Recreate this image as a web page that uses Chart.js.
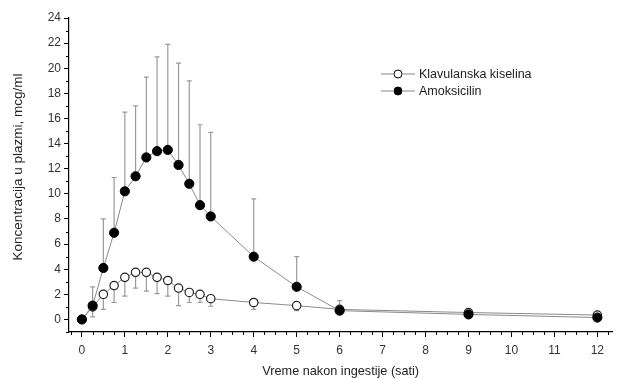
<!DOCTYPE html>
<html>
<head>
<meta charset="utf-8">
<script src="https://cdn.jsdelivr.net/npm/chart.js@4.4.0/dist/chart.umd.min.js"></script>
<style>
  html, body { margin: 0; padding: 0; background: #fff; }
  #wrap { width: 618px; height: 379px; }
</style>
</head>
<body>
<div id="wrap"><canvas id="myChart" width="618" height="379"></canvas></div>
<script>
const hours = [0, 0.25, 0.5, 0.75, 1, 1.25, 1.5, 1.75, 2, 2.25, 2.5, 2.75, 3, 4, 5, 6, 9, 12]

// Amoksicilin - mean and upper error bar
const amoxMean = [0, 1.1, 4.1, 6.9, 10.2, 11.4, 12.9, 13.4, 13.5, 12.3, 10.8, 9.1, 8.2, 5.0, 2.6, 0.7, 0.4, 0.15]
const amoxUpper = [null, 2.6, 8.0, 11.3, 16.5, 17.0, 19.3, 20.9, 21.9, 20.4, 19.0, 15.5, 14.9, 9.6, 5.0, 1.5, null, null]

// Klavulanska kiselina - mean and lower error bar
const clavMean = [0, 1.0, 2.0, 2.7, 3.35, 3.75, 3.75, 3.35, 3.1, 2.5, 2.15, 2.0, 1.65, 1.35, 1.1, 0.8, 0.55, 0.35]
const clavLower = [null, 0.2, 0.8, 1.35, 1.85, 2.5, 2.25, 2.05, 1.85, 1.1, 1.35, 1.35, 1.05, 0.8, 0.7, null, null, null]

const xTicks = [0, 1, 2, 3, 4, 5, 6, 7, 8, 9, 10, 11, 12]
const yTicks = [0, 2, 4, 6, 8, 10, 12, 14, 16, 18, 20, 22, 24]

const seriesNames = ['Klavulanska kiselina', 'Amoksicilin']
const xTitle = 'Vreme nakon ingestije (sati)'
const yTitle = 'Koncentracija u plazmi, mcg/ml'

const fontFamily = '"Liberation Sans", Arial, sans-serif'

function points(ys) {
  return hours.map((h, i) => ({ x: h, y: ys[i] }))
}

// error bars drawn through the scales
const errorBars = {
  id: 'errorBars',
  beforeDatasetsDraw(chart) {
    const c = chart.ctx
    const xs = chart.scales.x
    const ys = chart.scales.y
    c.save()
    c.strokeStyle = '#9a9a9a'
    c.lineWidth = 1.2
    function bar(x, y0, y1) {
      const px = xs.getPixelForValue(x)
      const p0 = ys.getPixelForValue(y0)
      const p1 = ys.getPixelForValue(y1)
      c.beginPath()
      c.moveTo(px, p0)
      c.lineTo(px, p1)
      c.moveTo(px - 2.5, p1)
      c.lineTo(px + 2.5, p1)
      c.stroke()
    }
    hours.forEach((h, i) => {
      if (amoxUpper[i] != null) bar(h, amoxMean[i], amoxUpper[i])
      if (clavLower[i] != null) bar(h, clavMean[i], clavLower[i])
    })
    c.restore()
  }
}

// minor ticks, y title and the legend
const extras = {
  id: 'extras',
  afterDraw(chart) {
    const c = chart.ctx
    const xs = chart.scales.x
    const ys = chart.scales.y
    const area = chart.chartArea
    c.save()
    c.strokeStyle = '#000'
    c.lineWidth = 1
    for (let v = -0.25; v <= 12.3; v += 0.25) {
      if (Math.abs(v - Math.round(v)) < 0.01) continue
      const px = Math.round(xs.getPixelForValue(v)) + 0.5
      c.beginPath()
      c.moveTo(px, area.bottom)
      c.lineTo(px, area.bottom + 3)
      c.stroke()
    }
    for (let v = -1; v <= 23; v += 2) {
      const py = Math.round(ys.getPixelForValue(v)) + 0.5
      c.beginPath()
      c.moveTo(area.left, py)
      c.lineTo(area.left - 3, py)
      c.stroke()
    }

    // y title
    c.save()
    c.translate(18, 167)
    c.rotate(-Math.PI / 2)
    c.font = '13.5px ' + fontFamily
    c.fillStyle = '#222'
    c.textAlign = 'center'
    c.textBaseline = 'middle'
    c.fillText(yTitle, 0, 0)
    c.restore()

    // legend
    const lx = 381
    const rows = [74, 91]
    c.font = '12.5px ' + fontFamily
    c.textBaseline = 'middle'
    rows.forEach((ly, i) => {
      c.strokeStyle = '#888'
      c.lineWidth = 1
      c.beginPath()
      c.moveTo(lx, ly)
      c.lineTo(lx + 12, ly)
      c.moveTo(lx + 22, ly)
      c.lineTo(lx + 34, ly)
      c.stroke()
      c.beginPath()
      c.arc(lx + 17, ly, 4, 0, Math.PI * 2)
      c.fillStyle = i === 0 ? '#fff' : '#000'
      c.fill()
      c.strokeStyle = '#000'
      c.stroke()
      c.fillStyle = '#222'
      c.fillText(seriesNames[i], lx + 38, ly + 1)
    })
    c.restore()
  }
}

const ctx = document.getElementById('myChart').getContext('2d')

const data = {
  datasets: [{
    label: seriesNames[0],
    data: points(clavMean),
    borderColor: '#8a8a8a',
    borderWidth: 1,
    pointRadius: 4.2,
    pointBackgroundColor: '#fff',
    pointBorderColor: '#222',
    pointBorderWidth: 1.2,
    order: 2
  }, {
    label: seriesNames[1],
    data: points(amoxMean),
    borderColor: '#8a8a8a',
    borderWidth: 1,
    pointRadius: 4.6,
    pointBackgroundColor: '#000',
    pointBorderColor: '#000',
    pointBorderWidth: 1,
    order: 1
  }]
}

const config = {
  type: 'line',
  data: data,
  options: {
    responsive: false,
    animation: false,
    layout: { padding: { top: 18, right: 0, left: 30, bottom: 0 } },
    plugins: {
      legend: { display: false },
      tooltip: { enabled: false }
    },
    scales: {
      x: {
        type: 'linear',
        min: -0.3,
        max: 12.35,
        afterBuildTicks(scale) { scale.ticks = xTicks.map(v => ({ value: v })) },
        afterFit(scale) { scale.height = 47 },
        border: { display: true, color: '#000', width: 1.2 },
        grid: { drawOnChartArea: false, color: '#000', tickLength: 5 },
        ticks: {
          autoSkip: false,
          maxRotation: 0,
          color: '#333',
          padding: 6,
          font: { family: fontFamily, size: 12 }
        },
        title: {
          display: true,
          text: xTitle,
          color: '#222',
          padding: { top: 5, bottom: 0 },
          font: { family: fontFamily, size: 12.7 }
        }
      },
      y: {
        min: -1,
        max: 24,
        afterBuildTicks(scale) { scale.ticks = yTicks.map(v => ({ value: v })) },
        afterFit(scale) { scale.width = 39 },
        border: { display: true, color: '#000', width: 1.2 },
        grid: { drawOnChartArea: false, color: '#000', tickLength: 5 },
        ticks: {
          autoSkip: false,
          color: '#333',
          padding: 3,
          font: { family: fontFamily, size: 12 }
        }
      }
    }
  },
  plugins: [errorBars, extras]
}

const myChart = new Chart(ctx, config)
</script>
</body>
</html>
